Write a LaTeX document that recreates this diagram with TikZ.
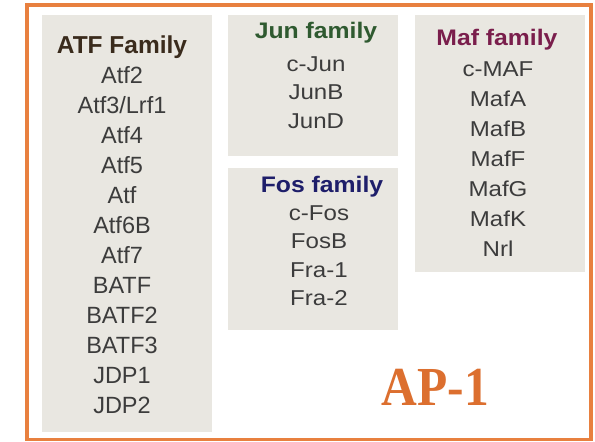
\documentclass[tikz,border=0pt]{standalone}
\usepackage{fontspec}
\setmainfont{Liberation Sans}
\newfontfamily\apfont{Liberation Serif}
\definecolor{frameor}{HTML}{E8803F}
\definecolor{apor}{HTML}{DC6F2F}
\definecolor{boxfill}{HTML}{E9E7E1}
\definecolor{itemgray}{HTML}{3C3C3C}
\definecolor{atfhead}{HTML}{3A2B1C}
\definecolor{junhead}{HTML}{2F5A30}
\definecolor{foshead}{HTML}{1E1E6A}
\definecolor{mafhead}{HTML}{7A1E4C}
\tikzset{
  famfill/.style={fill=boxfill, draw=none},
  atfitem/.style={anchor=base, inner sep=0pt, text=itemgray, font=\fontsize{23.5}{28}\selectfont},
  smitem/.style={anchor=base, inner sep=0pt, text=itemgray, font=\fontsize{21.5}{26}\selectfont, xscale=1.12},
  atfhd/.style={anchor=base, inner sep=0pt, text=atfhead, font=\fontsize{24.5}{28}\selectfont\bfseries},
  smhd/.style={anchor=base, inner sep=0pt, font=\fontsize{22.5}{26}\selectfont\bfseries, xscale=1.1},
}
\begin{document}
\begin{tikzpicture}[x=1pt,y=-1pt]
\useasboundingbox (0,0) rectangle (595,442);
\fill[white] (0,0) rectangle (595,442);
\draw[frameor, line width=3.5pt] (27,5) rectangle (591,439.5);
% boxes
\path[famfill] (42,15) rectangle (212,432);
\path[famfill] (228,15) rectangle (398,156);
\path[famfill] (228,168) rectangle (398,330);
\path[famfill] (415,15) rectangle (585,272);
% ATF
\node[atfhd] (atfh) at (122,53) {ATF Family};
\foreach \t [count=\i from 0] in {Atf2,Atf3/Lrf1,Atf4,Atf5,Atf,Atf6B,Atf7,BATF,BATF2,BATF3,JDP1,JDP2}
  \node[atfitem] (atf\i) at (122,83+30*\i) {\t};
% Jun
\node[smhd, text=junhead] (junh) at (316,38) {Jun family};
\foreach \t [count=\i from 0] in {c-Jun,JunB,JunD}
  \node[smitem] (jun\i) at (316,71+28.5*\i) {\t};
% Fos
\node[smhd, text=foshead] (fosh) at (322,192) {Fos family};
\foreach \t [count=\i from 0] in {c-Fos,FosB,Fra-1,Fra-2}
  \node[smitem] (fos\i) at (319,220+28.5*\i) {\t};
% Maf
\node[smhd, text=mafhead] (mafh) at (497,45) {Maf family};
\foreach \t [count=\i from 0] in {c-MAF,MafA,MafB,MafF,MafG,MafK,Nrl}
  \node[smitem] (maf\i) at (498,76+30*\i) {\t};
% AP-1
\node[anchor=base, inner sep=0pt, text=apor, font=\apfont\fontsize{55}{60}\selectfont\bfseries, xscale=0.9] (ap1) at (435.5,405) {AP-1};
\end{tikzpicture}
\end{document}
